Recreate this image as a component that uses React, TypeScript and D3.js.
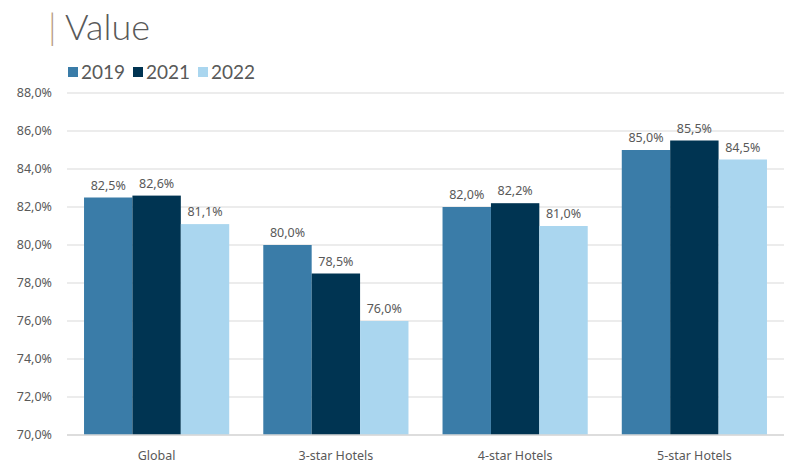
import React from "react";
import * as d3 from "d3";

const categories = ["Global", "3-star Hotels", "4-star Hotels", "5-star Hotels"];
const seriesNames = ["2019", "2021", "2022"];
const values2019 = [82.5, 80.0, 82.0, 85.0];
const values2021 = [82.6, 78.5, 82.2, 85.5];
const values2022 = [81.1, 76.0, 81.0, 84.5];
const yTicks = [70, 72, 74, 76, 78, 80, 82, 84, 86, 88];
const colors = ["#3A7CA8", "#003452", "#AAD6EF"];

const W = 800;
const H = 472;
const margin = { left: 67, right: 16, top: 93, bottom: 37 };

const fmt = (v: number) => v.toFixed(1).replace(".", ",") + "%";

export default function App() {
  const series = [values2019, values2021, values2022];
  const x = d3
    .scaleBand<string>()
    .domain(categories)
    .range([margin.left, W - margin.right])
    .paddingInner(0.19)
    .paddingOuter(0.095);
  const xs = d3
    .scaleBand<string>()
    .domain(seriesNames)
    .range([0, x.bandwidth()]);
  const y = d3
    .scaleLinear()
    .domain([70, 88])
    .range([H - margin.bottom, margin.top]);

  const font = "Noto Sans, sans-serif";
  return (
    <svg
      width={W}
      height={H}
      style={{ position: "absolute", left: 0, top: 0, background: "#fff" }}
    >
      {/* title */}
      <text x={48} y={40} fontFamily="Lato" fontWeight={300} fontSize={36} fill="#B89C84">
        |
      </text>
      <text x={65} y={40} fontFamily="Lato" fontWeight={300} fontSize={36} fill="#595959">
        Value
      </text>
      {/* legend */}
      {seriesNames.map((s, i) => {
        const lx = 68 + i * 65;
        return (
          <g key={s}>
            <rect x={lx} y={67} width={10} height={10} fill={colors[i]} />
            <text x={lx + 13} y={79} fontFamily="Lato" fontSize={19} fill="#595959">
              {s}
            </text>
          </g>
        );
      })}
      {/* gridlines */}
      {yTicks.map((t) => (
        <g key={t}>
          <line
            x1={margin.left}
            x2={W - margin.right}
            y1={y(t)}
            y2={y(t)}
            stroke="#D9D9D9"
            strokeWidth={1}
          />
          <text
            x={52}
            y={y(t)}
            dy="0.35em"
            textAnchor="end"
            fontFamily={font}
            fontSize={12.5}
            fill="#595959"
          >
            {fmt(t)}
          </text>
        </g>
      ))}
      {/* bars */}
      {categories.map((c, ci) => (
        <g key={c}>
          {series.map((vals, si) => {
            const bx = (x(c) as number) + (xs(seriesNames[si]) as number);
            const by = y(vals[ci]);
            return (
              <g key={si}>
                <rect
                  x={bx}
                  y={by}
                  width={xs.bandwidth()}
                  height={y(70) - by}
                  fill={colors[si]}
                />
                <text
                  x={bx + xs.bandwidth() / 2}
                  y={by - 8}
                  textAnchor="middle"
                  fontFamily={font}
                  fontSize={12.5}
                  fill="#595959"
                >
                  {fmt(vals[ci])}
                </text>
              </g>
            );
          })}
          <text
            x={(x(c) as number) + x.bandwidth() / 2}
            y={460}
            textAnchor="middle"
            fontFamily={font}
            fontSize={12.5}
            fill="#595959"
          >
            {c}
          </text>
        </g>
      ))}
      <line
        x1={margin.left}
        x2={W - margin.right}
        y1={y(70)}
        y2={y(70)}
        stroke="#D9D9D9"
        strokeWidth={1.5}
      />
    </svg>
  );
}
